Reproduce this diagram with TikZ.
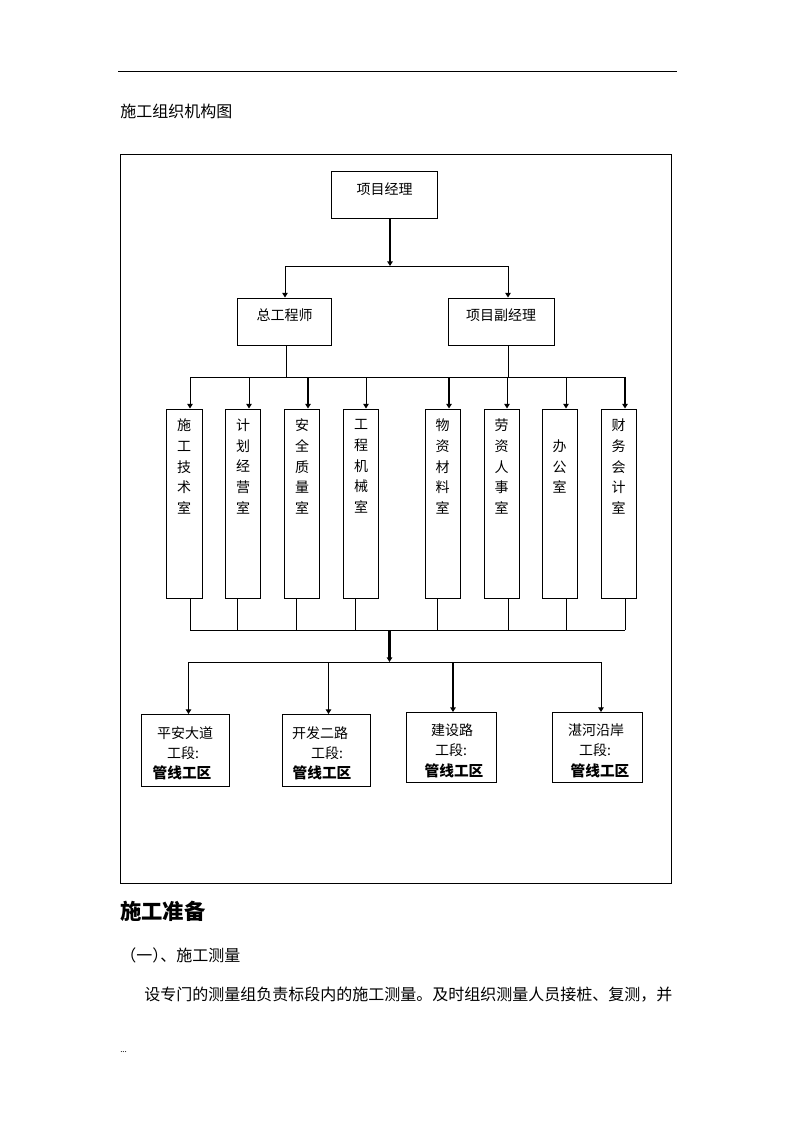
\documentclass[tikz,border=0pt]{standalone}
\usepackage{fontspec}
\setmainfont{Noto Sans CJK SC}
\usetikzlibrary{arrows.meta,fit}
\tikzset{
  box/.style={draw, line width=0.75pt, inner sep=0pt},
  conn/.style={line width=0.75pt},
  thickconn/.style={line width=1.8pt},
  arr/.style={-{Triangle[length=3.4pt,width=4pt]}},
  lbl/.style={inner sep=0pt, font=\fontsize{10.5}{12}\selectfont},
  vlbl/.style={inner sep=0pt, align=center, font=\fontsize{10.5}{15.5}\selectfont},
  blbl/.style={inner sep=0pt, font=\fontsize{11}{13}\selectfont\bfseries},
  ptext/.style={inner sep=0pt, anchor=west, font=\fontsize{12}{14}\selectfont},
}
\begin{document}
\begin{tikzpicture}[x=0.75pt,y=-0.75pt]
\useasboundingbox (0,0) rectangle (794,1123);
% header rule and title
\coordinate (hl1) at (118,72); \coordinate (hl2) at (677,72);
\draw[conn] (hl1) -- (hl2);
\node[ptext] (title) at (120,111) {施工组织机构图};
% frame
\coordinate (f1) at (120,155); \coordinate (f2) at (671,883);
\draw[conn] (f1) rectangle (f2);

% level 1 and 2
\node[box, fit={(331.5,172)(437,219)}] (pm) {};
\node[lbl] (pmt) at (384.5,189) {项目经理};
\node[box, fit={(237,298)(331.5,345)}] (ce) {};
\node[lbl] (cet) at (284.5,315) {总工程师};
\node[box, fit={(448,298)(554,345)}] (dpm) {};
\node[lbl] (dpmt) at (501,315) {项目副经理};

\coordinate (b1) at (390,266);
\coordinate (b1l) at (285,266); \coordinate (b1r) at (508,266);
\draw[thickconn, arr] (pm.south -| b1) -- (b1);
\draw[conn] (b1l) -- (b1r);
\draw[conn, arr] (b1l) -- (b1l |- ce.north);
\draw[conn, arr] (b1r) -- (b1r |- dpm.north);

% bus 2
\coordinate (b2l) at (190,377); \coordinate (b2r) at (625,377);
\coordinate (c2) at (286,378);
\draw[conn] (b2l) -- (b2r);
\draw[conn] (c2 |- ce.south) -- (c2);
\draw[conn] (b1r |- dpm.south) -- (b1r |- b2l);

% departments
\node[box, fit={(166,409)(202.5,598)}] (d1) {};
\node[box, fit={(225,409)(260.5,598)}] (d2) {};
\node[box, fit={(284,409)(319.5,598)}] (d3) {};
\node[box, fit={(343,409)(378.5,598)}] (d4) {};
\node[box, fit={(425,409)(460.5,598)}] (d5) {};
\node[box, fit={(484,409)(519,598)}] (d6) {};
\node[box, fit={(542,409)(577,598)}] (d7) {};
\node[box, fit={(601,409)(636,598)}] (d8) {};
\node[vlbl] (d1t) at (184,466.5) {施\\工\\技\\术\\室};
\node[vlbl] (d2t) at (243,466.5) {计\\划\\经\\营\\室};
\node[vlbl] (d3t) at (302,466.5) {安\\全\\质\\量\\室};
\node[vlbl] (d4t) at (361,466.5) {工\\程\\机\\械\\室};
\node[vlbl] (d5t) at (442.5,466.5) {物\\资\\材\\料\\室};
\node[vlbl] (d6t) at (501.5,466.5) {劳\\资\\人\\事\\室};
\node[vlbl] (d7t) at (559.5,466.5) {办\\公\\室};
\node[vlbl] (d8t) at (618.5,466.5) {财\\务\\会\\计\\室};

% arrows into departments
\coordinate (a1) at (190,377); \coordinate (a2) at (249,377);
\coordinate (a3) at (308,377); \coordinate (a4) at (366,377);
\coordinate (a5) at (449,377); \coordinate (a6) at (507,377);
\coordinate (a7) at (566,377); \coordinate (a8) at (625,377);
\draw[conn, arr] (a1) -- (a1 |- d1.north);
\draw[conn, arr] (a2) -- (a2 |- d2.north);
\draw[thickconn, arr] (a3) -- (a3 |- d3.north);
\draw[conn, arr] (a4) -- (a4 |- d4.north);
\draw[thickconn, arr] (a5) -- (a5 |- d5.north);
\draw[conn, arr] (a6) -- (a6 |- d6.north);
\draw[conn, arr] (a7) -- (a7 |- d7.north);
\draw[thickconn, arr] (a8) -- (a8 |- d8.north);

% lines from departments to bus 3
\coordinate (e1) at (190,630); \coordinate (e2) at (237,630);
\coordinate (e3) at (296,630); \coordinate (e4) at (355,630);
\coordinate (e5) at (437,630); \coordinate (e6) at (508,630);
\coordinate (e7) at (566,630); \coordinate (e8) at (625,630);
\draw[conn] (e1 |- d1.south) -- (e1);
\draw[conn] (e2 |- d2.south) -- (e2);
\draw[conn] (e3 |- d3.south) -- (e3);
\draw[conn] (e4 |- d4.south) -- (e4);
\draw[conn] (e5 |- d5.south) -- (e5);
\draw[conn] (e6 |- d6.south) -- (e6);
\draw[conn] (e7 |- d7.south) -- (e7);
\draw[conn] (e8 |- d8.south) -- (e8);
\draw[conn] (e1) -- (e8);

% bus 4
\coordinate (m3) at (389.5,630); \coordinate (m4) at (389.5,662);
\draw[thickconn, arr] (m3) -- (m4);
\coordinate (g1) at (188.5,662); \coordinate (g2) at (328.5,662);
\coordinate (g3) at (453,662); \coordinate (g4) at (601,662);
\draw[conn] (g1) -- (g4);

% sections
\node[box, fit={(141.5,714.5)(229.5,786)}] (s1) {};
\node[box, fit={(282,714.5)(370,786)}] (s2) {};
\node[box, fit={(406.5,712.5)(496.5,782)}] (s3) {};
\node[box, fit={(552,712.5)(642.5,782)}] (s4) {};
\draw[conn, arr] (g1) -- (g1 |- s1.north);
\draw[conn, arr] (g2) -- (g2 |- s2.north);
\draw[thickconn, arr] (g3) -- (g3 |- s3.north);
\draw[conn, arr] (g4) -- (g4 |- s4.north);

\node[lbl] (s1a) at (185,733) {平安大道};
\node[lbl] (s1b) at (183,753) {工段:};
\node[blbl] (s1c) at (182,773) {管线工区};
\node[lbl] (s2a) at (320,733) {开发二路};
\node[lbl] (s2b) at (327,753) {工段:};
\node[blbl] (s2c) at (322,773) {管线工区};
\node[lbl] (s3a) at (452,730) {建设路};
\node[lbl] (s3b) at (451,750) {工段:};
\node[blbl] (s3c) at (454,771) {管线工区};
\node[lbl] (s4a) at (596,730) {湛河沿岸};
\node[lbl] (s4b) at (595,750) {工段:};
\node[blbl] (s4c) at (600,771) {管线工区};

% text below
\node[inner sep=0pt, anchor=west, font=\fontsize{16}{18}\selectfont\bfseries] (h1) at (120,911) {施工准备};
\node[ptext] (h2) at (120,955) {（一）\hspace{-0.5em}、施工测量};
\node[ptext] (p1) at (144,995) {设专门的测量组负责标段内的施工测量。及时组织测量人员接桩、复测，并};
\node[inner sep=0pt, anchor=west, font=\fontsize{6}{7}\selectfont] (dots) at (120,1052) {...};
\end{tikzpicture}
\end{document}
